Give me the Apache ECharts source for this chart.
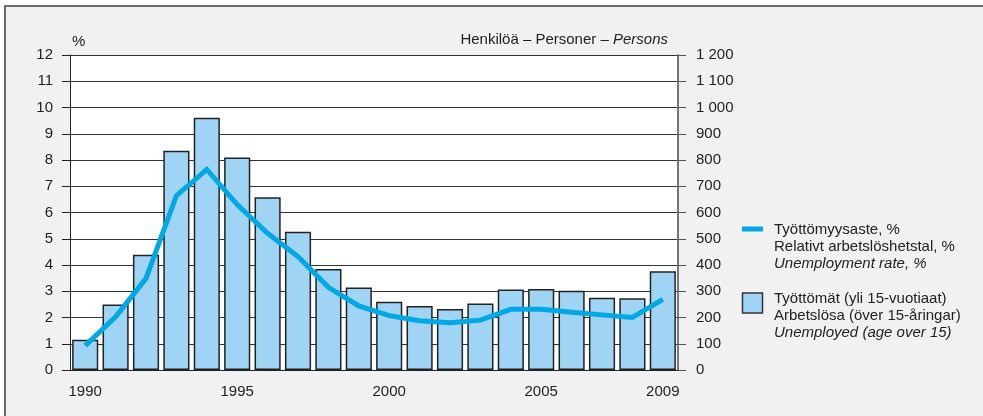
<!DOCTYPE html>
<html>
<head>
<meta charset="utf-8">
<script src="https://cdn.jsdelivr.net/npm/echarts@6/dist/echarts.min.js"></script>
<style>
html,body{margin:0;padding:0;background:#fff;}
#c{width:983px;height:416px;}
</style>
</head>
<body>
<div id="c"></div>
<script>
var years = ['1990','1991','1992','1993','1994','1995','1996','1997','1998','1999','2000','2001','2002','2003','2004','2005','2006','2007','2008','2009'];
var unemployed = [115, 250, 439, 835, 961, 810, 658, 527, 385, 314, 260, 244, 232, 253, 307, 309, 302, 275, 273, 376];
var rate = [0.93, 2.03, 3.49, 6.64, 7.64, 6.3, 5.21, 4.32, 3.15, 2.44, 2.07, 1.88, 1.80, 1.90, 2.31, 2.31, 2.2, 2.1, 2.0, 2.69];
var shownYearLabels = ['1990','1995','2000','2005','2009'];
var lineLegend = ['Työttömyysaste, %', 'Relativt arbetslöshetstal, %', 'Unemployment rate, %'];
var barLegend = ['Työttömät (yli 15-vuotiaat)', 'Arbetslösa (över 15-åringar)', 'Unemployed (age over 15)'];

var FONT = '"Liberation Sans Narrow", "Liberation Sans", Arial, sans-serif';
var FS = 15;
var LINE_COLOR = '#00a8e6';
var BAR_COLOR = '#a0d4f4';

var chart = echarts.init(document.getElementById('c'), null, {renderer: 'canvas'});
chart.setOption({
  backgroundColor: '#ffffff',
  animation: false,
  textStyle: {fontFamily: FONT},
  grid: {left: 70, right: 305, top: 55, bottom: 46, show: true, backgroundColor: '#ffffff', borderWidth: 0},
  xAxis: {
    type: 'category',
    data: years,
    axisLine: {show: true, lineStyle: {color: '#222', width: 1}},
    axisTick: {show: false},
    axisLabel: {
      fontFamily: FONT, fontSize: FS, color: '#222', margin: 14,
      interval: function (i, v) { return shownYearLabels.indexOf(v) >= 0; }
    },
    splitLine: {show: false}
  },
  yAxis: [
    {
      type: 'value', min: 0, max: 12, interval: 1, position: 'left',
      axisLine: {show: true, lineStyle: {color: '#222', width: 1}},
      axisTick: {show: true, length: 8, lineStyle: {color: '#222'}},
      axisLabel: {fontFamily: FONT, fontSize: FS, color: '#222', margin: 17},
      splitLine: {show: true, lineStyle: {color: '#333', width: 1}}
    },
    {
      type: 'value', min: 0, max: 1200, interval: 100, position: 'right',
      axisLine: {show: true, lineStyle: {color: '#777', width: 2}},
      axisTick: {show: true, length: 8, lineStyle: {color: '#555'}},
      axisLabel: {
        fontFamily: FONT, fontSize: FS, color: '#222', margin: 18,
        formatter: function (v) { return String(v).replace(/\B(?=(\d{3})+(?!\d))/g, ' '); }
      },
      splitLine: {show: false}
    }
  ],
  series: [
    {
      name: 'Työttömät', type: 'bar', yAxisIndex: 1, data: unemployed,
      barCategoryGap: '14%',
      itemStyle: {color: BAR_COLOR, borderColor: '#222', borderWidth: 1.5},
      z: 2
    },
    {
      name: 'Työttömyysaste', type: 'line', yAxisIndex: 0, data: rate,
      showSymbol: false, symbol: 'none',
      lineStyle: {color: LINE_COLOR, width: 5, cap: 'butt', join: 'miter'},
      z: 3
    }
  ],
  graphic: [
    {type: 'rect', z: -100, silent: true, shape: {x: 5, y: 6, width: 1000, height: 430},
     style: {fill: '#f1f1f1', stroke: '#6a6a6a', lineWidth: 2}},
    {type: 'text', left: 72, top: 34, style: {text: '%', font: FS + 'px ' + FONT, fill: '#222'}},
    {type: 'text', right: 983 - 668, top: 32,
     style: {text: 'Henkilöä – Personer – {i|Persons}', font: FS + 'px ' + FONT, fill: '#222',
       rich: {i: {fontStyle: 'italic', fontFamily: FONT, fontSize: FS, fill: '#222'}}}},
    {type: 'rect', shape: {x: 742, y: 226.5, width: 21, height: 5}, style: {fill: LINE_COLOR}},
    {type: 'text', left: 774, top: 221,
     style: {text: lineLegend[0] + '\n' + lineLegend[1] + '\n{i|' + lineLegend[2] + '}',
       font: FS + 'px ' + FONT, fill: '#222', lineHeight: 17,
       rich: {i: {fontStyle: 'italic', fontFamily: FONT, fontSize: FS, lineHeight: 17, fill: '#222'}}}},
    {type: 'rect', shape: {x: 742.5, y: 293, width: 20, height: 20},
     style: {fill: BAR_COLOR, stroke: '#333', lineWidth: 1.5}},
    {type: 'text', left: 774, top: 290,
     style: {text: barLegend[0] + '\n' + barLegend[1] + '\n{i|' + barLegend[2] + '}',
       font: FS + 'px ' + FONT, fill: '#222', lineHeight: 17,
       rich: {i: {fontStyle: 'italic', fontFamily: FONT, fontSize: FS, lineHeight: 17, fill: '#222'}}}}
  ]
});
</script>
</body>
</html>
